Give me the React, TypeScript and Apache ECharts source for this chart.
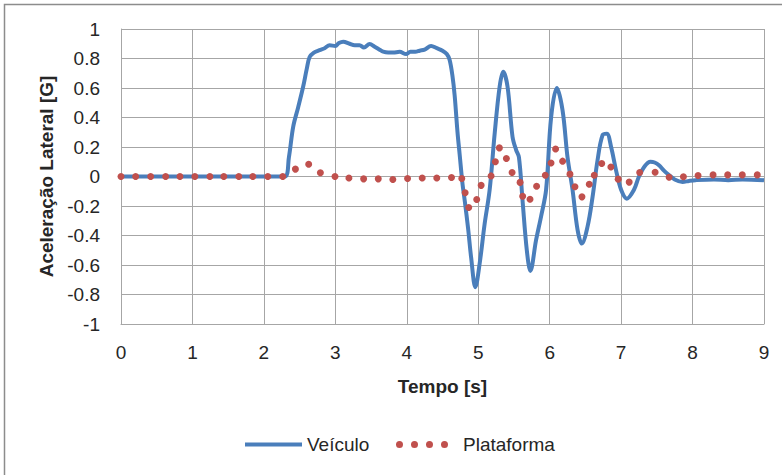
import React, { useEffect, useRef } from "react";
import * as echarts from "echarts";

const xTicks = [0, 1, 2, 3, 4, 5, 6, 7, 8, 9];
const yTicks = [-1, -0.8, -0.6, -0.4, -0.2, 0, 0.2, 0.4, 0.6, 0.8, 1];

const vehicleTime = [
  0, 0.5, 1, 1.5, 2, 2.29, 2.35, 2.41, 2.48, 2.55,
  2.6, 2.64, 2.7, 2.78, 2.85, 2.92, 3.0, 3.05, 3.11, 3.2,
  3.27, 3.34, 3.4, 3.48, 3.55, 3.62, 3.67, 3.74, 3.81, 3.9,
  3.99, 4.05, 4.12, 4.18, 4.25, 4.34, 4.42, 4.5, 4.56, 4.6,
  4.64, 4.67, 4.71, 4.74, 4.78, 4.81, 4.86, 4.9, 4.96, 5.02,
  5.09, 5.16, 5.23, 5.3, 5.35, 5.41, 5.48, 5.53, 5.57, 5.62,
  5.68, 5.73, 5.81, 5.88, 5.95, 6.02, 6.1, 6.18, 6.25, 6.32,
  6.39, 6.45, 6.53, 6.6, 6.67, 6.74, 6.8, 6.86, 6.93, 7.0,
  7.08, 7.18, 7.25, 7.33, 7.41, 7.47, 7.53, 7.6, 7.67, 7.75,
  7.86, 7.95, 8.04, 8.3, 8.5, 8.7, 9.0,
];
const vehicleAccel = [
  0, 0, 0, 0, 0, 0, 0.13, 0.337, 0.47, 0.61,
  0.73, 0.81, 0.84, 0.857, 0.87, 0.89, 0.885, 0.905, 0.914, 0.9,
  0.89, 0.89, 0.875, 0.898, 0.88, 0.86, 0.846, 0.84, 0.84, 0.845,
  0.83, 0.845, 0.845, 0.853, 0.86, 0.885, 0.87, 0.853, 0.83, 0.79,
  0.68, 0.55, 0.3, 0.15, -0.05, -0.16, -0.36, -0.546, -0.75, -0.59,
  -0.32, -0.09, 0.29, 0.61, 0.71, 0.61, 0.27, 0.18, 0.13, -0.16,
  -0.5, -0.64, -0.43, -0.27, -0.09, 0.4, 0.6, 0.45, 0.13, -0.09,
  -0.36, -0.455, -0.34, -0.14, 0.11, 0.28, 0.29, 0.2, 0.04, -0.09,
  -0.15, -0.09, 0, 0.07, 0.1, 0.095, 0.077, 0.04, 0.01, -0.02,
  -0.037, -0.03, -0.025, -0.02, -0.025, -0.02, -0.025,
];

const platformTime = [
  0, 0.205, 0.415, 0.625, 0.825, 1.034, 1.244, 1.439, 1.649, 1.845,
  2.055, 2.264, 2.441, 2.627, 2.791, 2.995, 3.19, 3.396, 3.601, 3.805,
  4.011, 4.216, 4.42, 4.626, 4.77, 4.817, 4.867, 4.979, 5.041, 5.18,
  5.24, 5.296, 5.394, 5.474, 5.586, 5.622, 5.725, 5.817, 5.939, 6.019,
  6.083, 6.181, 6.284, 6.354, 6.452, 6.554, 6.624, 6.729, 6.857, 6.959,
  7.113, 7.26, 7.476, 7.672, 7.872, 8.077, 8.287, 8.492, 8.696, 8.906,
];
const platformAccel = [
  0, 0, 0, 0, 0, 0, 0, 0, 0, 0,
  0, 0, 0.05, 0.083, 0.025, 0, -0.01, -0.016, -0.016, -0.02,
  -0.013, -0.01, -0.01, -0.007, -0.014, -0.11, -0.21, -0.156, -0.06, 0.004,
  0.1, 0.194, 0.122, 0.027, -0.04, -0.134, -0.154, -0.066, 0.009, 0.092,
  0.187, 0.104, 0.016, -0.07, -0.138, -0.052, 0.009, 0.088, 0.065, -0.018,
  -0.038, 0.027, 0.029, -0.005, -0.002, 0.007, 0.011, 0.011, 0.011, 0.011,
];

const FONT = "'Liberation Sans', Arial, sans-serif";
const GRID = "#a6a6a6";
const TEXT = "#262626";
const BLUE = "#4a7ebb";
const RED = "#c0504d";

const DOTS_ICON =
  "path://M0,3.5a3.5,3.5 0 1,0 7,0a3.5,3.5 0 1,0 -7,0Z" +
  "M15,3.5a3.5,3.5 0 1,0 7,0a3.5,3.5 0 1,0 -7,0Z" +
  "M30,3.5a3.5,3.5 0 1,0 7,0a3.5,3.5 0 1,0 -7,0Z" +
  "M45,3.5a3.5,3.5 0 1,0 7,0a3.5,3.5 0 1,0 -7,0Z";

export default function App() {
  const ref = useRef<HTMLDivElement>(null);
  useEffect(() => {
    if (!ref.current) return;
    const chart = echarts.init(ref.current, undefined, { renderer: "svg" });
    const vehicle = vehicleTime.map((t, i) => [t, vehicleAccel[i]]);
    const platform = platformTime.map((t, i) => [t, platformAccel[i]]);
    chart.setOption({
      animation: false,
      backgroundColor: "#ffffff",
      textStyle: { fontFamily: FONT },
      grid: { left: 121, top: 29, width: 643, height: 295, containLabel: false },
      graphic: [
        {
          type: "rect",
          shape: { x: 4.5, y: 4.5, width: 800, height: 500 },
          style: { fill: "none", stroke: "#8c8c8c", lineWidth: 1.5 },
          silent: true,
        },
      ],
      legend: [
        {
          data: ["Veículo"],
          left: 245,
          top: 435,
          padding: 0,
          icon: "rect",
          itemWidth: 57,
          itemHeight: 4,
          textStyle: { fontFamily: FONT, fontSize: 19, color: TEXT },
        },
        {
          data: [{ name: "Plataforma", icon: DOTS_ICON }],
          left: 396,
          top: 435,
          padding: 0,
          itemWidth: 52,
          itemHeight: 7,
          textStyle: { fontFamily: FONT, fontSize: 19, color: TEXT, padding: [0, 0, 0, 10] },
        },
      ],
      xAxis: {
        type: "value",
        min: xTicks[0],
        max: xTicks[xTicks.length - 1],
        interval: 1,
        name: "Tempo [s]",
        nameLocation: "middle",
        nameGap: 53,
        nameTextStyle: { fontFamily: FONT, fontSize: 19, fontWeight: "bold", color: TEXT },
        axisLine: { show: true, onZero: false, lineStyle: { color: GRID, width: 1 } },
        axisTick: { show: false },
        axisLabel: { fontFamily: FONT, fontSize: 19, color: TEXT, margin: 19 },
        splitLine: { show: true, lineStyle: { color: GRID, width: 1 } },
      },
      yAxis: {
        type: "value",
        min: yTicks[0],
        max: yTicks[yTicks.length - 1],
        interval: 0.2,
        name: "Aceleração Lateral [G]",
        nameLocation: "middle",
        nameGap: 62,
        nameTextStyle: { fontFamily: FONT, fontSize: 19, fontWeight: "bold", color: TEXT },
        axisLine: { show: true, lineStyle: { color: GRID, width: 1 } },
        axisTick: { show: false },
        axisLabel: { fontFamily: FONT, fontSize: 19, color: TEXT, margin: 21 },
        splitLine: { show: true, lineStyle: { color: GRID, width: 1 } },
      },
      series: [
        {
          name: "Veículo",
          type: "line",
          data: vehicle,
          showSymbol: false,
          symbol: "none",
          smooth: 0.35,
          lineStyle: { color: BLUE, width: 4 },
          itemStyle: { color: BLUE },
          z: 2,
        },
        {
          name: "Plataforma",
          type: "scatter",
          data: platform,
          symbol: "circle",
          symbolSize: 7,
          itemStyle: { color: RED, opacity: 1 },
          z: 3,
        },
      ],
    });
    return () => chart.dispose();
  }, []);
  return (
    <div
      ref={ref}
      style={{ position: "absolute", left: 0, top: 0, width: 782, height: 475, background: "#fff" }}
    />
  );
}
